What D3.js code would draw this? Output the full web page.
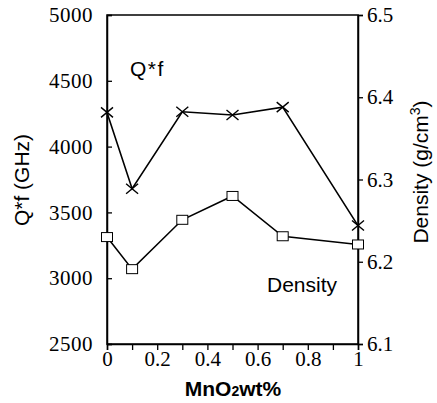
<!DOCTYPE html>
<html>
<head>
<meta charset="utf-8">
<script src="https://cdn.jsdelivr.net/npm/d3@7"></script>
<style>
  body { margin: 0; background: #fff; }
</style>
</head>
<body>
<div id="chart"></div>
<script>
// MnO2 content (wt%)
const mnO2 = [0, 0.1, 0.3, 0.5, 0.7, 1];
// Q*f values (GHz)
const qf = [4260, 3680, 4265, 4240, 4300, 3400];
// density values (g/cm3)
const density = [6.230, 6.191, 6.251, 6.280, 6.231, 6.221];

const xTicks = [0, 0.2, 0.4, 0.6, 0.8, 1];
const xMinorTicks = d3.range(0, 1.01, 0.1);
const qfTicks = [2500, 3000, 3500, 4000, 4500, 5000];
const densTicks = [6.1, 6.2, 6.3, 6.4, 6.5];

const W = 437, H = 403;
const margin = { top: 15, right: 79, bottom: 59, left: 107 };
const width = W - margin.left - margin.right;
const height = H - margin.top - margin.bottom;
const serif = 'Liberation Serif';
const sans = 'Liberation Sans';

const svg = d3.select('#chart')
  .append('svg')
  .attr('width', W)
  .attr('height', H);

const g = svg.append('g')
  .attr('transform', 'translate(' + margin.left + ',' + margin.top + ')');

const x = d3.scaleLinear().domain([0, 1]).range([0, width]);
const yL = d3.scaleLinear().domain([2500, 5000]).range([height, 0]);
const yR = d3.scaleLinear().domain([6.1, 6.5]).range([height, 0]);

// frame
g.append('rect')
  .attr('width', width)
  .attr('height', height)
  .attr('fill', 'none')
  .attr('stroke', '#000')
  .attr('stroke-width', 1.5);

// bottom axis: ticks every 0.1, labels every 0.2
const xAxis = g.append('g')
  .attr('transform', 'translate(0,' + height + ')')
  .call(d3.axisBottom(x).tickValues(xMinorTicks).tickSize(6).tickFormat(d => {
    const v = Math.round(d * 10) / 10;
    return xTicks.some(t => Math.abs(t - v) < 1e-9) ? d3.format('~g')(v) : '';
  }));
xAxis.select('.domain').attr('stroke-width', 1.5);
xAxis.selectAll('.tick line').attr('stroke-width', 1.3);
xAxis.selectAll('.tick text')
  .attr('font-family', serif).attr('font-size', 21).attr('dy', '0.6em');

// left axis, ticks inward
const lAxis = g.append('g')
  .call(d3.axisLeft(yL).tickValues(qfTicks).tickSize(-5).tickPadding(14).tickFormat(d3.format('d')));
lAxis.select('.domain').attr('stroke-width', 1.5);
lAxis.selectAll('.tick line').attr('stroke-width', 1.3);
lAxis.selectAll('.tick text')
  .attr('font-family', serif).attr('font-size', 21).attr('letter-spacing', 0.5);

// right axis, ticks outward
const rAxis = g.append('g')
  .attr('transform', 'translate(' + width + ',0)')
  .call(d3.axisRight(yR).tickValues(densTicks).tickSize(5).tickPadding(4).tickFormat(d3.format('.1f')));
rAxis.select('.domain').attr('stroke-width', 1.5);
rAxis.selectAll('.tick line').attr('stroke-width', 1.3);
rAxis.selectAll('.tick text')
  .attr('font-family', serif).attr('font-size', 21);

// Q*f line with crosses
const qfLine = d3.line().x((d, i) => x(mnO2[i])).y(d => yL(d));
g.append('path')
  .datum(qf)
  .attr('d', qfLine)
  .attr('fill', 'none')
  .attr('stroke', '#000')
  .attr('stroke-width', 1.6);

g.selectAll('.cross')
  .data(qf)
  .enter().append('path')
  .attr('class', 'cross')
  .attr('transform', (d, i) => 'translate(' + x(mnO2[i]) + ',' + yL(d) + ')')
  .attr('d', 'M-6,-5L6,5M-6,5L6,-5')
  .attr('stroke', '#000')
  .attr('stroke-width', 1.4);

// density line with open squares
const densLine = d3.line().x((d, i) => x(mnO2[i])).y(d => yR(d));
g.append('path')
  .datum(density)
  .attr('d', densLine)
  .attr('fill', 'none')
  .attr('stroke', '#000')
  .attr('stroke-width', 1.6);

g.selectAll('.sq')
  .data(density)
  .enter().append('rect')
  .attr('class', 'sq')
  .attr('x', (d, i) => x(mnO2[i]) - 5.5)
  .attr('y', d => yR(d) - 4.5)
  .attr('width', 11)
  .attr('height', 9)
  .attr('fill', '#fff')
  .attr('stroke', '#000')
  .attr('stroke-width', 1);

// series labels
g.append('text')
  .attr('x', 23).attr('y', 61)
  .attr('font-family', sans)
  .attr('font-size', 21)
  .attr('letter-spacing', 1.5)
  .text('Q*f');

g.append('text')
  .attr('x', 160).attr('y', 277)
  .attr('font-family', sans)
  .attr('font-size', 21)
  .text('Density');

// axis titles
svg.append('text')
  .attr('transform', 'translate(28.5,180) rotate(-90)')
  .attr('text-anchor', 'middle')
  .attr('font-family', sans)
  .attr('font-size', 21)
  .text('Q*f (GHz)');

const rt = svg.append('text')
  .attr('transform', 'translate(428,172) rotate(-90)')
  .attr('text-anchor', 'middle')
  .attr('font-family', sans)
  .attr('font-size', 21);
rt.append('tspan').text('Density (g/cm');
rt.append('tspan').attr('font-size', 14).attr('dy', -8).text('3');
rt.append('tspan').attr('dy', 8).text(')');

const xt = svg.append('text')
  .attr('x', 233).attr('y', 396)
  .attr('text-anchor', 'middle')
  .attr('font-family', sans)
  .attr('font-weight', 'bold')
  .attr('font-size', 21);
xt.append('tspan').text('MnO');
xt.append('tspan').attr('font-size', 14).text('2');
xt.append('tspan').text('wt%');
</script>
</body>
</html>
